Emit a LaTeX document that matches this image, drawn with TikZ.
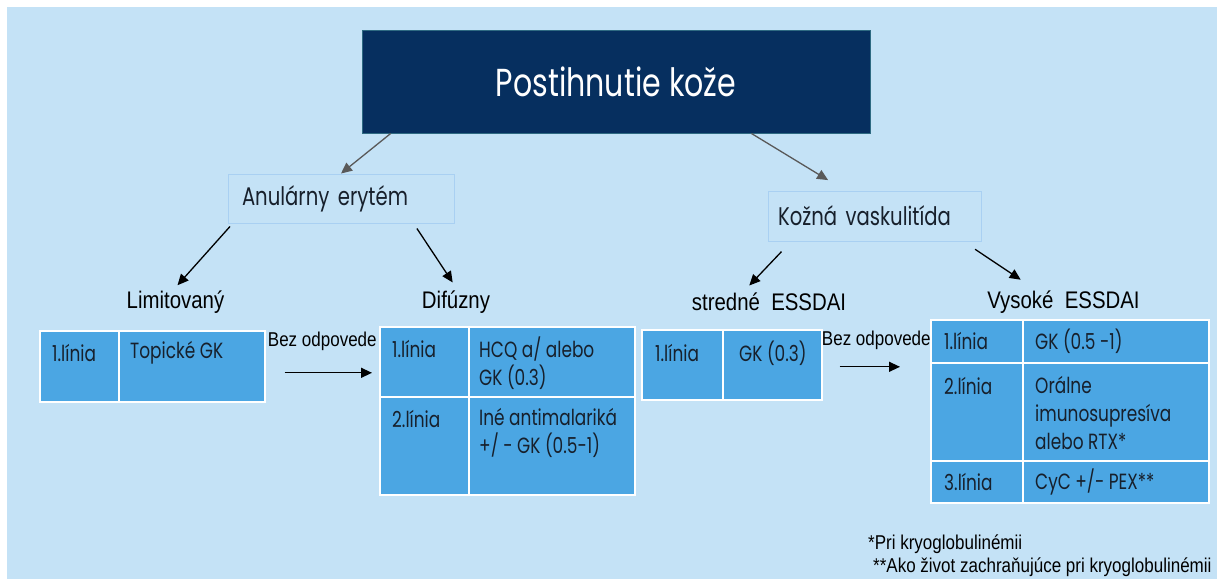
\documentclass[tikz,border=0pt]{standalone}
\usepackage{fontspec}
\usetikzlibrary{arrows.meta}
\setmainfont{Liberation Sans}
\newfontfamily\gothic[FakeStretch=0.77]{Poppins}
\newfontfamily\narrow[FakeStretch=0.85]{Liberation Sans}
\definecolor{skBg}{HTML}{C4E2F6}
\definecolor{skNavy}{HTML}{062F5F}
\definecolor{skEdge}{HTML}{2E6A82}
\definecolor{skCell}{HTML}{4BA6E3}
\definecolor{skInk}{HTML}{17202C}
\definecolor{skSub}{HTML}{A9D0F2}
\definecolor{skGray}{HTML}{595959}

\begin{document}
\begin{tikzpicture}[
  x=1pt, y=-1pt, >={Triangle[length=11pt,width=10pt]},
  title/.style={fill=skNavy,draw=skEdge,line width=1pt,text=white,minimum width=508pt,minimum height=103pt,
                font=\gothic\fontsize{39}{44}\selectfont},
  sub/.style={fill=skBg,draw=skSub,line width=1pt,align=left,inner ysep=0pt,minimum height=49pt,
              font=\gothic\fontsize{25.5}{30}\selectfont,text=skInk},
  cell/.style={fill=skCell,draw=white,line width=1.6pt,anchor=north west,inner sep=0pt},
  ctxt/.style={anchor=west,inner sep=0pt,align=left,text=skInk,font=\gothic\fontsize{22}{28}\selectfont},
  head/.style={inner sep=3pt,font=\narrow\fontsize{24}{28}\selectfont},
  note/.style={inner sep=0pt,font=\narrow\fontsize{20}{24}\selectfont},
  foot/.style={anchor=west,inner sep=0pt,font=\narrow\fontsize{20}{22}\selectfont},
  tree/.style={->,line width=1.3pt,black},
]
\useasboundingbox (0,0) rectangle (1217,579);
\fill[skBg] (7,7) rectangle (1217,579);

\node[title] (top) at (616,81.5) {Postihnutie kože};
\node[sub,text width=198pt,inner xsep=14pt] (ane) at (341,198.5) {Anulárny erytém};
\node[sub,text width=193pt,inner xsep=10pt,minimum height=50pt] (kv) at (874.5,216) {Kožná vaskulitída};

\node[head] (lim) at (175.5,302) {Limitovaný};
\node[head] (dif) at (456,302) {Difúzny};
\node[head] (str) at (769,302) {stredné~ ESSDAI};
\node[head] (vys) at (1063.5,302) {Vysoké~ ESSDAI};

% limitovany
\node[cell,minimum width=79pt,minimum height=71pt] (l1a) at (39,330) {};
\node[cell,minimum width=146pt,minimum height=71pt] (l1b) at (118,330) {};
\node[ctxt] (l1at) at (52,353) {1.línia};
\node[ctxt] (l1bt) at (130,353) {Topické GK};

% difuzny
\node[cell,minimum width=89pt,minimum height=70pt] (d1a) at (379,326) {};
\node[cell,minimum width=166pt,minimum height=70pt] (d1b) at (468,326) {};
\node[cell,minimum width=89pt,minimum height=98pt] (d2a) at (379,396) {};
\node[cell,minimum width=166pt,minimum height=98pt] (d2b) at (468,396) {};
\node[ctxt] (d1at) at (392,349) {1.línia};
\node[ctxt] (d1bt) at (479,363) {HCQ a/ alebo\\GK (0.3)};
\node[ctxt] (d2at) at (392,419) {2.línia};
\node[ctxt] (d2bt) at (479,433) {Iné antimalariká\\+/ - GK (0.5-1)};

% stredne ESSDAI
\node[cell,minimum width=81pt,minimum height=70pt] (s1a) at (641,329) {};
\node[cell,minimum width=99pt,minimum height=70pt] (s1b) at (722,329) {};
\node[ctxt] (s1at) at (655,353) {1.línia};
\node[ctxt] (s1bt) at (739,353) {GK (0.3)};

% vysoke ESSDAI
\node[cell,minimum width=92pt,minimum height=43pt] (v1a) at (930,319) {};
\node[cell,minimum width=186pt,minimum height=43pt] (v1b) at (1022,319) {};
\node[cell,minimum width=92pt,minimum height=98pt] (v2a) at (930,362) {};
\node[cell,minimum width=186pt,minimum height=98pt] (v2b) at (1022,362) {};
\node[cell,minimum width=92pt,minimum height=42pt] (v3a) at (930,460) {};
\node[cell,minimum width=186pt,minimum height=42pt] (v3b) at (1022,460) {};
\node[ctxt] (v1at) at (944,341) {1.línia};
\node[ctxt] (v1bt) at (1035,341) {GK (0.5 -1)};
\node[ctxt] (v2at) at (944,386) {2.línia};
\node[ctxt] (v2bt) at (1035,413) {Orálne\\imunosupresíva\\alebo RTX*};
\node[ctxt] (v3at) at (944,482) {3.línia};
\node[ctxt] (v3bt) at (1035,482) {CyC +/- PEX**};

\node[foot] (fn1) at (868,544) {*Pri kryoglobulinémii};
\node[foot] (fn2) at (873,567) {**Ako život zachraňujúce pri kryoglobulinémii};

% tree arrows
\draw[->,line width=1.3pt,skGray] (top.193) -- (ane.north);
\draw[->,line width=1.3pt,skGray,shorten >=20pt] (top.339) -- (kv.139);
\draw[tree,shorten <=4pt,shorten >=3pt] (ane.193) -- (lim.north);
\draw[tree,shorten <=6pt,shorten >=6pt] (ane.341) -- (dif.north);
\draw[tree,shorten <=14pt,shorten >=6pt] (kv.197) -- (str.153);
\draw[tree,shorten <=14pt,shorten >=14pt] (kv.344) -- (vys.155);

% no response
\draw[tree,shorten <=19pt,shorten >=7pt] ([yshift=-6.5pt]l1b.east) -- ([yshift=-6.5pt]l1b.east -| d1a.west)
  node[note,midway,above=22pt] (bez1) {Bez odpovede};
\draw[tree,shorten <=17pt,shorten >=30pt] ([yshift=-2pt]s1b.east) -- ([yshift=-2pt]s1b.east -| v1a.west)
  node[note,midway,above=17pt] (bez2) {Bez odpovede};
\end{tikzpicture}
\end{document}
